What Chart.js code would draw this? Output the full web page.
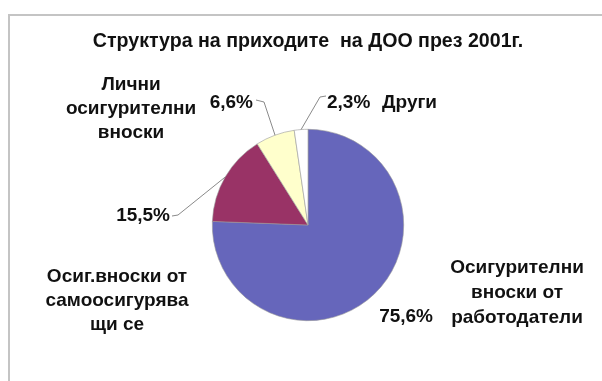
<!DOCTYPE html>
<html>
<head>
<meta charset="utf-8">
<script src="https://cdn.jsdelivr.net/npm/chart.js@4"></script>
<style>
  html, body { margin: 0; padding: 0; background: #fff; }
  canvas { display: block; }
</style>
</head>
<body>
<canvas id="pie" width="602" height="381"></canvas>
<script>
// data
const TITLE = "Структура на приходите  на ДОО през 2001г.";
const CATEGORIES = [
  "Осигурителни вноски от работодатели",
  "Осиг.вноски от самоосигуряващи се",
  "Лични осигурителни вноски",
  "Други",
];
const VALUES = [75.6, 15.5, 6.6, 2.3];
// how each category name is wrapped in the picture
const NAME_LINES = [
  ["Осигурителни", "вноски от", "работодатели"],
  ["Осиг.вноски от", "самоосигурява", "щи се"],
  ["Лични", "осигурителни", "вноски"],
  ["Други"],
];

const COLORS = ["#6666bb", "#993366", "#ffffcc", "#ffffff"];
const TITLE_FONT = "bold 19.6px 'Liberation Sans', Arial, sans-serif";
const FONT = "bold 19px 'Liberation Sans', Arial, sans-serif";

// label placement (layout only)
const LABEL_POS = [
  { name: { x: 517, y: [268, 293, 318] }, pct: { x: 433, y: 317, align: "right" } },
  { name: { x: 117, y: [277, 301, 325] }, pct: { x: 170, y: 216, align: "right" }, lead: [[172, 216], [178, 215]] },
  { name: { x: 131, y: [85, 109, 133] }, pct: { x: 253, y: 103, align: "right" }, lead: [[256, 100], [264, 102]] },
  { name: { x: 382, y: [103], align: "left" }, pct: { x: 327, y: 103, align: "left" }, lead: [[326, 96], [320, 97]] },
];

const fmtPct = (v) => v.toFixed(1).replace(".", ",") + "%";

const frameAndLabels = {
  id: "frameAndLabels",
  beforeDraw(chart) {
    const ctx = chart.ctx;
    ctx.save();
    ctx.fillStyle = "#fff";
    ctx.fillRect(0, 0, chart.width, chart.height);
    ctx.strokeStyle = "#c4c4c4";
    ctx.lineWidth = 2;
    ctx.beginPath();
    ctx.moveTo(602, 15);
    ctx.lineTo(9, 15);
    ctx.lineTo(9, 381);
    ctx.stroke();
    ctx.restore();
  },
  afterDraw(chart) {
    const ctx = chart.ctx;
    const arcs = chart.getDatasetMeta(0).data;
    ctx.save();
    ctx.fillStyle = "#111";
    ctx.textBaseline = "middle";
    ctx.textAlign = "center";
    ctx.font = TITLE_FONT;
    ctx.fillText(TITLE, 308, 42);
    ctx.font = FONT;

    // leader lines to the middle of each slice's rim
    ctx.strokeStyle = "#8a8a8a";
    ctx.lineWidth = 1;
    arcs.forEach((arc, i) => {
      const lp = LABEL_POS[i];
      if (!lp.lead) return;
      const p = arc.getProps(["x", "y", "startAngle", "endAngle", "outerRadius"], true);
      const mid = (p.startAngle + p.endAngle) / 2;
      const ex = p.x + Math.cos(mid) * p.outerRadius;
      const ey = p.y + Math.sin(mid) * p.outerRadius;
      ctx.beginPath();
      ctx.moveTo(lp.lead[0][0], lp.lead[0][1]);
      ctx.lineTo(lp.lead[1][0], lp.lead[1][1]);
      ctx.lineTo(ex, ey);
      ctx.stroke();
    });

    VALUES.forEach((v, i) => {
      const lp = LABEL_POS[i];
      ctx.textAlign = lp.pct.align;
      ctx.fillText(fmtPct(v), lp.pct.x, lp.pct.y);
      ctx.textAlign = lp.name.align || "center";
      NAME_LINES[i].forEach((line, j) => ctx.fillText(line, lp.name.x, lp.name.y[j]));
    });
    ctx.restore();
  },
};

new Chart(document.getElementById("pie"), {
  type: "pie",
  data: {
    labels: CATEGORIES,
    datasets: [{
      data: VALUES,
      backgroundColor: COLORS,
      borderColor: "#9a9a9a",
      borderWidth: 0.6,
    }],
  },
  options: {
    responsive: false,
    animation: false,
    devicePixelRatio: 1,
    layout: { padding: { left: 212, right: 198, top: 129, bottom: 60 } },
    plugins: {
      legend: { display: false },
      tooltip: { enabled: false },
      title: { display: false },
    },
  },
  plugins: [frameAndLabels],
});
</script>
</body>
</html>
